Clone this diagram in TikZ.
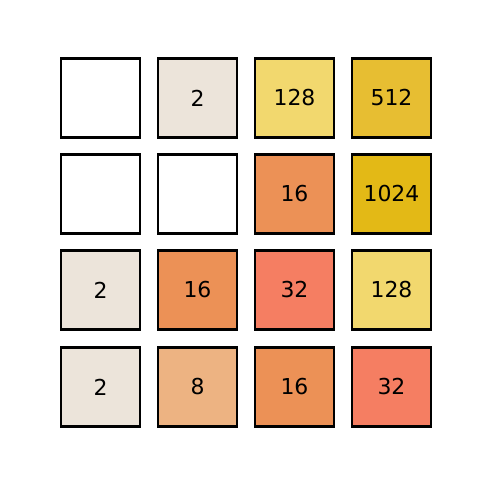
\documentclass[tikz,border=0pt]{standalone}
\usepackage{fontspec}
\setmainfont{DejaVu Sans}
\usepackage{tikz}
\usetikzlibrary{positioning}

\definecolor{cTwo}{RGB}{236,228,218}
\definecolor{cEight}{RGB}{237,179,130}
\definecolor{cSixteen}{RGB}{236,145,86}
\definecolor{cThirtyTwo}{RGB}{245,126,98}
\definecolor{cOneTwoEight}{RGB}{242,216,110}
\definecolor{cFiveOneTwo}{RGB}{231,190,50}
\definecolor{cOneKilo}{RGB}{227,185,22}

\tikzset{
  tile/.style={draw=black, line width=0.06cm, minimum size=1.975cm,
    inner sep=0pt, fill=white, font=\fontsize{15.6}{18}\selectfont,
    text=black}
}

\begin{document}
\begin{tikzpicture}
  \useasboundingbox (0,0) rectangle (12,12);

  % Top row
  \node[tile] (a1) at (2.5125,9.55) {};
  \node[tile, fill=cTwo] (a2) at (4.9375,9.55) {2};
  \node[tile, fill=cOneTwoEight] (a3) at (7.3625,9.55) {128};
  \node[tile, fill=cFiveOneTwo] (a4) at (9.7875,9.55) {512};

  % Second row
  \node[tile] (b1) at (2.5125,7.15) {};
  \node[tile] (b2) at (4.9375,7.15) {};
  \node[tile, fill=cSixteen] (b3) at (7.3625,7.15) {16};
  \node[tile, fill=cOneKilo] (b4) at (9.7875,7.15) {1024};

  % Third row
  \node[tile, fill=cTwo] (c1) at (2.5125,4.75) {2};
  \node[tile, fill=cSixteen] (c2) at (4.9375,4.75) {16};
  \node[tile, fill=cThirtyTwo] (c3) at (7.3625,4.75) {32};
  \node[tile, fill=cOneTwoEight] (c4) at (9.7875,4.75) {128};

  % Bottom row
  \node[tile, fill=cTwo] (d1) at (2.5125,2.325) {2};
  \node[tile, fill=cEight] (d2) at (4.9375,2.325) {8};
  \node[tile, fill=cSixteen] (d3) at (7.3625,2.325) {16};
  \node[tile, fill=cThirtyTwo] (d4) at (9.7875,2.325) {32};
\end{tikzpicture}
\end{document}
